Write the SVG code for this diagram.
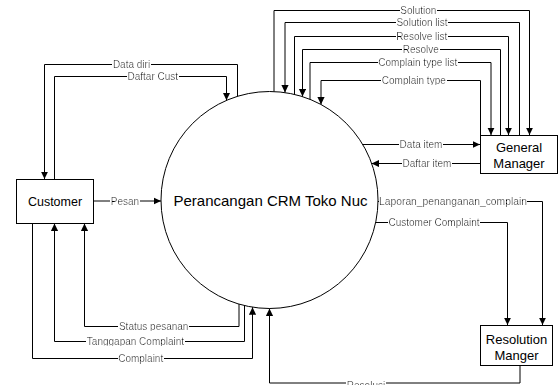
<svg xmlns="http://www.w3.org/2000/svg" width="558" height="385" viewBox="0 0 558 385">
<defs>
<marker id="ah" markerUnits="userSpaceOnUse" markerWidth="8" markerHeight="8" refX="7.5" refY="3.6" orient="auto">
<path d="M0,0 L7.5,3.6 L0,7.2 z" fill="#000"/>
</marker>
<filter id="bg" x="0" y="0.08" width="1" height="0.84">
<feFlood flood-color="#fff"/>
<feComposite in="SourceGraphic" operator="over"/>
</filter>
<style>
.box{fill:#fff;stroke:#000;stroke-width:1}
.c{fill:none;stroke:#000;stroke-width:1;marker-end:url(#ah)}
.t{font-family:"Liberation Sans",Arial,sans-serif;font-size:13px;fill:#000;text-anchor:middle}
.l{font-family:"Liberation Sans",Arial,sans-serif;font-size:10px;fill:#000;text-anchor:middle;filter:url(#bg)}
</style>
</defs>
<rect width="558" height="385" fill="#fff"/>
<g id="connectors">
<path class="c" d="M237.5,96.3 V64.5 H44.5 V179"/>
<path class="c" d="M54.5,179.5 V76.5 H226.5 V100.3"/>
<path class="c" d="M93.5,201 H161"/>
<path class="c" d="M239,304.1 V326.5 H84.5 V223.5"/>
<path class="c" d="M244.5,305.5 V341.5 H54.5 V223.5"/>
<path class="c" d="M32.5,223.5 V358.5 H252.5 V307.2"/>
<path class="c" d="M274,91.6 V10.5 H529.5 V135"/>
<path class="c" d="M519.5,135.5 V22.5 H285 V92.6"/>
<path class="c" d="M294.5,94.4 V36.5 H508.5 V135"/>
<path class="c" d="M500.5,135.5 V49.5 H302.5 V96.6"/>
<path class="c" d="M310,99.3 V62.5 H491 V135"/>
<path class="c" d="M480.5,135.5 V80.5 H321 V104.5"/>
<path class="c" d="M362.6,144.5 H480"/>
<path class="c" d="M480.5,163.5 H371.6"/>
<path class="c" d="M378,201.5 H542.5 V325"/>
<path class="c" d="M375.7,222.5 H507.5 V325"/>
<path class="c" d="M520,365.5 V383 H269.5 V308.5"/>
<text class="l" x="131.5" y="67.8">Data diri</text>
<text class="l" x="152.8" y="79.8">Daftar Cust</text>
<text class="l" x="125" y="204.5">Pesan</text>
<text class="l" x="153.7" y="329.8">Status pesanan</text>
<text class="l" x="135.5" y="344.8">Tanggapan Complaint</text>
<text class="l" x="140.7" y="362">Complaint</text>
<text class="l" x="418.3" y="13.8">Solution</text>
<text class="l" x="422" y="26">Solution list</text>
<text class="l" x="421.7" y="40">Resolve list</text>
<text class="l" x="420.8" y="52.8">Resolve</text>
<text class="l" x="417.8" y="66">Complain type list</text>
<text class="l" x="413.8" y="83.8">Complain type</text>
<text class="l" x="421" y="148">Data item</text>
<text class="l" x="427" y="167">Daftar item</text>
<text class="l" x="379" y="205.3" style="text-anchor:start" textLength="148" lengthAdjust="spacingAndGlyphs">Laporan_penanganan_complain</text>
<text class="l" x="434" y="226">Customer Complaint</text>
<text class="l" x="366" y="388.5">Resolusi</text>
</g>
<g id="process">
<circle cx="269.5" cy="200" r="108.5" fill="none" stroke="#000" stroke-width="1"/>
<text class="t" x="270.5" y="205.5" style="font-size:15px">Perancangan CRM Toko Nuc</text>
</g>
<g id="customer">
<rect class="box" x="16.5" y="179.5" width="77" height="44"/>
<text class="t" x="55" y="206" style="font-size:12.5px">Customer</text>
</g>
<g id="general-manager">
<rect class="box" x="480.5" y="135.5" width="77" height="38"/>
<text class="t" x="519" y="151.5">General</text>
<text class="t" x="519" y="167.5">Manager</text>
</g>
<g id="resolution-manager">
<rect class="box" x="480.5" y="325.5" width="72" height="40"/>
<text class="t" x="516.5" y="343.5">Resolution</text>
<text class="t" x="516.5" y="359.5">Manger</text>
</g>
</svg>
